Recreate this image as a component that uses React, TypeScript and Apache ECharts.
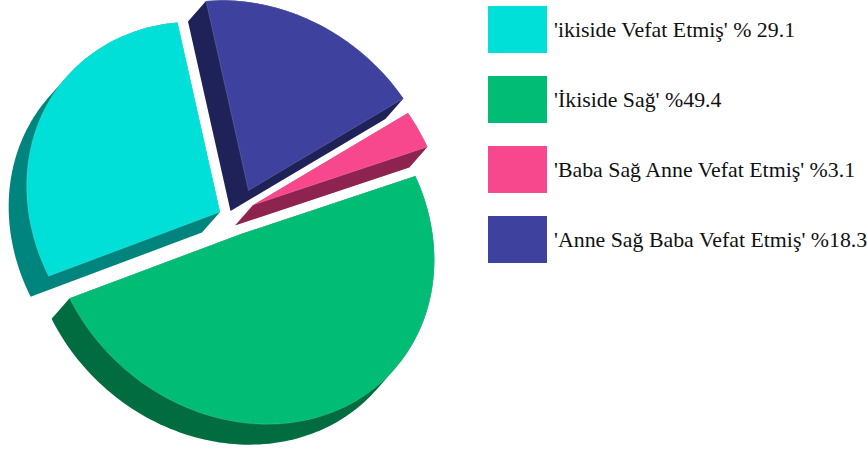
import React, { useEffect, useRef } from "react";
import * as echarts from "echarts";

// Data
const SLICE_LABELS = [
  "'ikiside Vefat Etmiş' % 29.1",
  "'İkiside Sağ' %49.4",
  "'Baba Sağ Anne Vefat Etmiş' %3.1",
  "'Anne Sağ Baba Vefat Etmiş' %18.3",
];
const SLICE_VALUES = [29.1, 49.4, 3.1, 18.3];

// Styles
const TOP_COLORS = ["#00E0D8", "#00BC75", "#F7488D", "#3E429E"];
const SIDE_COLORS = ["#00857E", "#006C40", "#8E234F", "#1F2159"];

// Layout of the tilted pie: centre, projection of the unit circle, depth, explosion of each slice
const CENTER = [234, 220];
const AXIS_X = [188.6, 16.2];
const AXIS_Y = [-42.5, 189.5];
const DEPTH = [-18, 20.5];
const EXPLODE = [
  [-14, -8],
  [7, 14],
  [19, -15],
  [14.5, -29.5],
];

type P = [number, number];

function hull(points: P[]): P[] {
  const s = [...points].sort((a, b) => a[0] - b[0] || a[1] - b[1]);
  const cross = (o: P, a: P, b: P) =>
    (a[0] - o[0]) * (b[1] - o[1]) - (a[1] - o[1]) * (b[0] - o[0]);
  const build = (list: P[]) => {
    const out: P[] = [];
    for (const p of list) {
      while (out.length >= 2 && cross(out[out.length - 2], out[out.length - 1], p) <= 0) out.pop();
      out.push(p);
    }
    out.pop();
    return out;
  };
  return [...build(s), ...build([...s].reverse())];
}

function slicePoints(startFrac: number, endFrac: number, index: number): P[] {
  const ax = CENTER[0] + EXPLODE[index][0];
  const ay = CENTER[1] + EXPLODE[index][1];
  const pts: P[] = [[ax, ay]];
  const steps = Math.max(8, Math.ceil((endFrac - startFrac) * 240));
  for (let i = 0; i <= steps; i++) {
    const f = startFrac + ((endFrac - startFrac) * i) / steps;
    const phi = Math.PI / 2 + f * 2 * Math.PI;
    const c = Math.cos(phi);
    const s = Math.sin(phi);
    pts.push([
      ax + AXIS_X[0] * c + AXIS_Y[0] * s,
      ay - (AXIS_X[1] * c + AXIS_Y[1] * s),
    ]);
  }
  return pts;
}

function buildOption() {
  const total = SLICE_VALUES.reduce((a, b) => a + b, 0);
  let acc = 0;
  const series = SLICE_VALUES.map((v, index) => {
    const start = acc / total;
    acc += v;
    const end = acc / total;
    return {
      type: "custom",
      name: SLICE_LABELS[index],
      coordinateSystem: "none",
      silent: true,
      itemStyle: { color: TOP_COLORS[index] },
      data: [[start, end, v]],
      renderItem: (_: any, api: any) => {
        const top = slicePoints(api.value(0), api.value(1), index);
        const shifted = top.map((p) => [p[0] + DEPTH[0], p[1] + DEPTH[1]] as P);
        return {
          type: "group",
          children: [
            {
              type: "polygon",
              shape: { points: hull([...top, ...shifted]) },
              style: { fill: SIDE_COLORS[index] },
            },
            {
              type: "polygon",
              shape: { points: top },
              style: { fill: TOP_COLORS[index], stroke: "rgba(255,255,255,0.3)", lineWidth: 0.5 },
            },
          ],
        };
      },
    };
  });
  return {
    animation: false,
    backgroundColor: "#fff",
    legend: {
      orient: "vertical",
      left: 488,
      top: 6,
      padding: 0,
      itemWidth: 59,
      itemHeight: 47,
      itemGap: 23,
      icon: "rect",
      selectedMode: false,
      data: SLICE_LABELS,
      textStyle: {
        fontFamily: "'Liberation Serif'",
        fontSize: 21.85,
        color: "#111",
        padding: [0, 0, 0, 2],
      },
    },
    series,
  };
}

export default function App() {
  const ref = useRef<HTMLDivElement>(null);
  useEffect(() => {
    document.body.style.margin = "0";
    const chart = echarts.init(ref.current!, undefined, { renderer: "svg" });
    chart.setOption(buildOption() as any);
    return () => chart.dispose();
  }, []);
  return <div ref={ref} style={{ width: 867, height: 453 }} />;
}
